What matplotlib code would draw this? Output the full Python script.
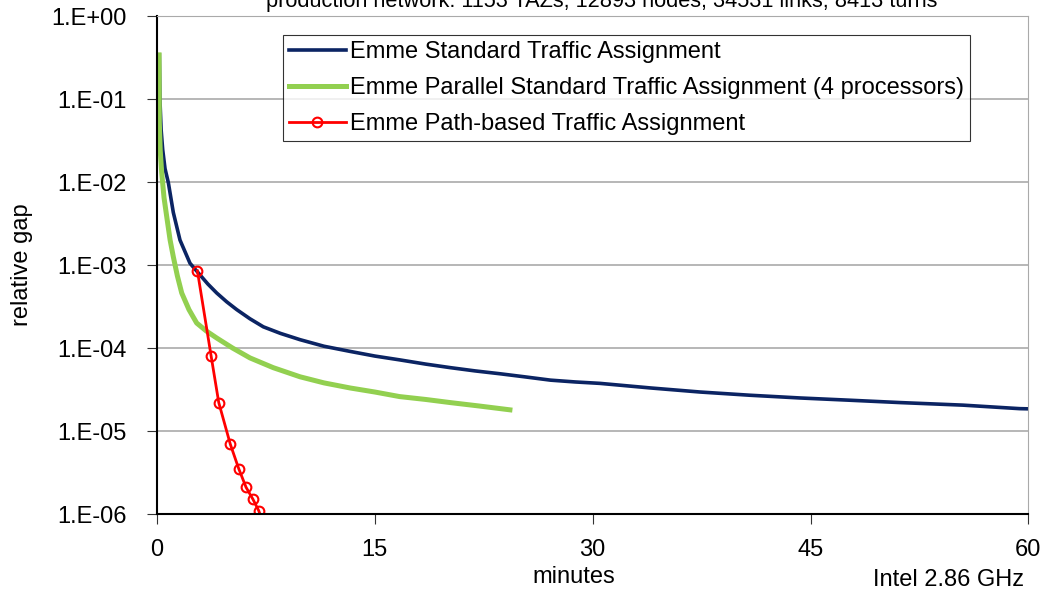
import matplotlib.pyplot as plt
from matplotlib.ticker import FixedLocator

# datos (minutos, gap relativo)
std_min = [0.16, 0.20, 0.28, 0.39, 0.55, 0.78, 1.12, 1.58, 2.27, 2.96, 3.5, 4.11, 4.8, 5.49,
           6.4, 7.32, 8.5, 9.85, 11.5, 13.3, 15.0, 16.7, 18.5, 20.2, 21.9, 23.6, 25.3, 27.1,
           28.8, 30.5, 34.0, 37.4, 40.8, 44.3, 47.7, 51.2, 55.5, 59.4, 60.0]
std_gap = [3.4e-1, 9.8e-2, 4.3e-2, 2.45e-2, 1.45e-2, 9.8e-3, 4.3e-3, 2.0e-3, 1.05e-3, 7.6e-4,
           5.9e-4, 4.6e-4, 3.6e-4, 2.9e-4, 2.25e-4, 1.8e-4, 1.5e-4, 1.26e-4, 1.05e-4, 9.1e-5,
           8.0e-5, 7.2e-5, 6.4e-5, 5.8e-5, 5.3e-5, 4.9e-5, 4.5e-5, 4.1e-5, 3.9e-5, 3.75e-5,
           3.3e-5, 2.95e-5, 2.7e-5, 2.5e-5, 2.35e-5, 2.2e-5, 2.05e-5, 1.86e-5, 1.85e-5]

par_min = [0.14, 0.16, 0.22, 0.32, 0.48, 0.67, 0.9, 1.12, 1.40, 1.70, 2.2, 2.73, 3.4, 4.11,
           5.2, 6.4, 8.0, 9.85, 11.5, 13.3, 15.0, 16.7, 18.5, 20.2, 22.2, 24.3]
par_gap = [3.4e-1, 5.1e-2, 2.4e-2, 1.3e-2, 6.5e-3, 3.8e-3, 2.0e-3, 1.26e-3, 7.4e-4, 4.6e-4,
           2.9e-4, 2.0e-4, 1.6e-4, 1.32e-4, 1.0e-4, 7.6e-5, 5.8e-5, 4.5e-5, 3.8e-5, 3.3e-5,
           2.95e-5, 2.6e-5, 2.4e-5, 2.2e-5, 2.0e-5, 1.8e-5]

path_min = [2.78, 3.72, 4.25, 5.05, 5.63, 6.13, 6.61, 7.00, 7.35]
path_gap = [8.5e-4, 8.1e-5, 2.2e-5, 6.9e-6, 3.5e-6, 2.1e-6, 1.5e-6, 1.1e-6, 7.5e-7]

y_ticks = [1e0, 1e-1, 1e-2, 1e-3, 1e-4, 1e-5, 1e-6]
y_labels = ['1.E+00', '1.E-01', '1.E-02', '1.E-03', '1.E-04', '1.E-05', '1.E-06']
x_ticks = [0, 15, 30, 45, 60]

plt.rcParams['font.family'] = ['Liberation Sans', 'DejaVu Sans']
fs = 17

fig = plt.figure(figsize=(10.49, 5.95), dpi=100)
ax = fig.add_axes([0.1497, 0.1361, 0.8306, 0.8370])

ax.plot(std_min, std_gap, color='#0b2463', lw=2.6, label='Emme Standard Traffic Assignment')
ax.plot(par_min, par_gap, color='#92d050', lw=3.6,
        label='Emme Parallel Standard Traffic Assignment (4 processors)')
ax.plot(path_min, path_gap, color='#ff0000', lw=2, marker='o', ms=7, mfc='none',
        mec='#ff0000', mew=1.5, label='Emme Path-based Traffic Assignment')

ax.set_yscale('log')
ax.set_ylim(1e-6, 1)
ax.set_xlim(0, 60)
ax.yaxis.set_major_locator(FixedLocator(y_ticks))
ax.set_yticklabels(y_labels)
ax.yaxis.set_minor_locator(FixedLocator([]))
ax.set_xticks(x_ticks)
ax.tick_params(labelsize=fs, length=7, color='#333333')
ax.tick_params(axis='y', pad=15)
ax.tick_params(axis='x', pad=11)

ax.grid(axis='y', color='#aaaaaa', lw=1.2)
ax.set_axisbelow(True)
ax.spines['left'].set_color('black')
ax.spines['bottom'].set_color('black')
ax.spines['left'].set_linewidth(1.5)
ax.spines['bottom'].set_linewidth(1.5)
ax.spines['top'].set_color('#aaaaaa')
ax.spines['right'].set_color('#aaaaaa')

ax.set_ylabel('relative gap', fontsize=fs, va='center')
ax.yaxis.set_label_coords(-0.155, 0.5)
ax.set_xlabel('minutes', fontsize=fs, va='center')
ax.xaxis.set_label_coords(0.478, -0.1265)

fig.text(0.904, 0.025, 'Intel 2.86 GHz', fontsize=fs, ha='center', va='center')
fig.text(0.574, 0.988, 'production network: 1153 TAZs, 12893 nodes, 34531 links, 8413 turns',
         fontsize=15.7, ha='center', va='baseline')

leg = ax.legend(loc='upper left', bbox_to_anchor=(0.1447, 0.962), fontsize=fs,
                frameon=True, fancybox=False, edgecolor='black', handlelength=2.4,
                borderpad=0.25, labelspacing=0.6, handletextpad=0.2, borderaxespad=0)
leg.get_frame().set_linewidth(0.8)

fig.savefig('out.png', dpi=100)
